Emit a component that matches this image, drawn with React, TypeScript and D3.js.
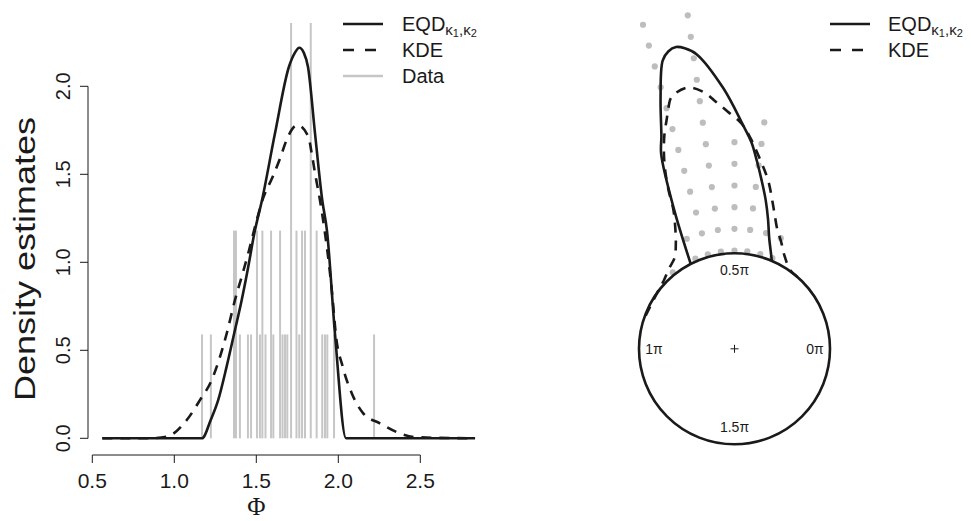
import * as d3 from "d3";

// density estimates (phi in radians)
const eqdPhi = [0.561, 1.169, 1.222, 1.268, 1.319, 1.364, 1.411, 1.451, 1.488, 1.535, 1.614, 1.699, 1.735, 1.762, 1.79, 1.815, 1.858, 1.902, 1.931, 1.98, 2.047, 2.834];
const eqdDens = [0, 0, 0.104, 0.218, 0.407, 0.591, 0.786, 0.975, 1.165, 1.354, 1.733, 2.111, 2.19, 2.219, 2.19, 2.111, 1.733, 1.354, 1.178, 0.591, 0, 0];

const kdePhi = [0.561, 0.852, 0.954, 1.076, 1.157, 1.228, 1.279, 1.32, 1.37, 1.411, 1.451, 1.492, 1.54, 1.6, 1.645, 1.689, 1.75, 1.817, 1.838, 1.858, 1.888, 1.919, 1.945, 1.966, 1.984, 2.027, 2.082, 2.152, 2.254, 2.376, 2.478, 2.834];
const kdeDens = [0, 0, 0.009, 0.104, 0.218, 0.331, 0.464, 0.597, 0.786, 0.918, 1.051, 1.202, 1.36, 1.486, 1.591, 1.705, 1.78, 1.714, 1.619, 1.506, 1.354, 1.165, 0.975, 0.786, 0.597, 0.407, 0.256, 0.142, 0.085, 0.028, 0.006, 0];

// observations (rug) and how many share each value
const rugPhi = [1.169, 1.223, 1.364, 1.376, 1.4, 1.449, 1.468, 1.504, 1.522, 1.537, 1.556, 1.59, 1.604, 1.645, 1.66, 1.675, 1.689, 1.712, 1.745, 1.762, 1.779, 1.797, 1.832, 1.868, 1.902, 1.919, 1.933, 1.974, 2.218];
const rugCount = [1, 1, 2, 2, 1, 1, 1, 2, 1, 2, 1, 2, 1, 2, 1, 1, 1, 4, 2, 1, 2, 2, 4, 2, 1, 1, 1, 1, 1];
const RUG_UNIT = 0.59;

// stacked points on the circular plot
const binTheta = [1.175, 1.305, 1.44, 1.571, 1.71, 1.846, 1.98, 2.25];
const binCount = [2, 2, 7, 6, 12, 12, 2, 1];

const circleLabels = [
  { t: 0, text: "0π" },
  { t: 0.5, text: "0.5π" },
  { t: 1, text: "1π" },
  { t: 1.5, text: "1.5π" },
];

const W = 971;
const H = 521;
const INK = "#1a1a1a";
const GREY = "#c6c6c6";
const DOT = "#bdbdbd";
const DASH = "10 8";
const LW = 2.6;
const FONT = "'Liberation Sans', Arial, Helvetica, sans-serif";

const x = d3.scaleLinear().domain([0.5, 2.5]).range([92.3, 420.3]);
const y = d3.scaleLinear().domain([0, 2]).range([438.3, 86.3]);

const CX = 734.5;
const CY = 348.8;
const R = 95.5;
const STACK0 = 1.029;
const STACK_STEP = 0.227;

const lineXY = d3
  .line<[number, number]>()
  .x((d) => x(d[0]))
  .y((d) => y(d[1]))
  .curve(d3.curveMonotoneX);

const zip = (a: number[], b: number[]) => a.map((v, i) => [v, b[i]] as [number, number]);

function polarPath(phi: number[], dens: number[]) {
  const pts = zip(phi, dens);
  let a = 0;
  while (a < pts.length - 1 && pts[a + 1][1] === 0) a++;
  let b = pts.length - 1;
  while (b > 0 && pts[b - 1][1] === 0) b--;
  return d3
    .lineRadial<[number, number]>()
    .angle((d) => Math.PI / 2 - d[0])
    .radius((d) => R * (1 + d[1]))
    .curve(d3.curveCatmullRom)(pts.slice(a, b + 1));
}

const EqdLabel = ({ lx, ly }: { lx: number; ly: number }) => (
  <text x={lx} y={ly} fontSize={20} fontFamily={FONT} fill={INK}>
    EQD
    <tspan fontSize={15} dy={4}>κ</tspan>
    <tspan fontSize={11} dy={2}>1</tspan>
    <tspan fontSize={15} dy={-2}>,κ</tspan>
    <tspan fontSize={11} dy={2}>2</tspan>
  </text>
);

export default function App() {
  const xTicks = x.ticks(5);
  const yTicks = y.ticks(4);
  const fmt = d3.format(".1f");

  const dots: { cx: number; cy: number; key: string }[] = [];
  binTheta.forEach((t, i) => {
    for (let k = 0; k < binCount[i]; k++) {
      const r = R * (STACK0 + STACK_STEP * k);
      dots.push({ cx: CX + r * Math.cos(t), cy: CY - r * Math.sin(t), key: `${i}-${k}` });
    }
  });

  return (
    <svg
      width={W}
      height={H}
      style={{ position: "absolute", left: 0, top: 0, background: "#fff" }}
      fontFamily={FONT}
    >
      {/* ---------- left panel ---------- */}
      {rugPhi.map((p, i) => (
        <line
          key={i}
          x1={x(p)}
          x2={x(p)}
          y1={y(0)}
          y2={y(rugCount[i] * RUG_UNIT)}
          stroke={GREY}
          strokeWidth={2}
        />
      ))}
      <path d={lineXY(zip(kdePhi, kdeDens)) ?? ""} fill="none" stroke={INK} strokeWidth={LW} strokeDasharray={DASH} />
      <path d={lineXY(zip(eqdPhi, eqdDens)) ?? ""} fill="none" stroke={INK} strokeWidth={LW} />

      {/* y axis */}
      <line x1={88} x2={88} y1={y(0)} y2={y(2)} stroke={INK} strokeWidth={1} />
      {yTicks.map((t) => (
        <g key={t}>
          <line x1={80} x2={88} y1={y(t)} y2={y(t)} stroke={INK} strokeWidth={1} />
          <text
            transform={`translate(70,${y(t)}) rotate(-90)`}
            textAnchor="middle"
            fontSize={20}
            fill={INK}
          >
            {fmt(t)}
          </text>
        </g>
      ))}
      <text
        transform={`translate(35,259) rotate(-90)`}
        textAnchor="middle"
        fontSize={30}
        textLength={284}
        lengthAdjust="spacingAndGlyphs"
        fill={INK}
      >
        Density estimates
      </text>

      {/* x axis */}
      <line x1={x(0.5)} x2={x(2.5)} y1={455} y2={455} stroke={INK} strokeWidth={1} />
      {xTicks.map((t) => (
        <g key={t}>
          <line x1={x(t)} x2={x(t)} y1={455} y2={463} stroke={INK} strokeWidth={1} />
          <text x={x(t)} y={487.5} textAnchor="middle" fontSize={21} fill={INK}>
            {fmt(t)}
          </text>
        </g>
      ))}
      <text x={x(1.5)} y={515} textAnchor="middle" fontSize={25} fontFamily="'Liberation Serif', 'DejaVu Serif', serif" fill={INK}>
        Φ
      </text>

      {/* left legend */}
      <line x1={343} x2={383} y1={24} y2={24} stroke={INK} strokeWidth={LW} />
      <line x1={343} x2={383} y1={50} y2={50} stroke={INK} strokeWidth={LW} strokeDasharray="11 11" />
      <line x1={343} x2={383} y1={76} y2={76} stroke={GREY} strokeWidth={LW} />
      <EqdLabel lx={402} ly={31} />
      <text x={402} y={57} fontSize={20} fill={INK}>KDE</text>
      <text x={402} y={83} fontSize={20} fill={INK}>Data</text>

      {/* ---------- right panel ---------- */}
      {dots.map((d) => (
        <circle key={d.key} cx={d.cx} cy={d.cy} r={3.1} fill={DOT} />
      ))}
      <g transform={`translate(${CX},${CY})`}>
        <circle r={R} fill="none" stroke={INK} strokeWidth={LW} />
        <path d={polarPath(kdePhi, kdeDens) ?? ""} fill="none" stroke={INK} strokeWidth={LW} strokeDasharray={DASH} />
        <path d={polarPath(eqdPhi, eqdDens) ?? ""} fill="none" stroke={INK} strokeWidth={LW} />
        <line x1={-4} x2={4} y1={0} y2={0} stroke={INK} strokeWidth={1} />
        <line x1={0} x2={0} y1={-4} y2={4} stroke={INK} strokeWidth={1} />
        {circleLabels.map((l) => {
          const a = l.t * Math.PI;
          const rr = R - 17;
          return (
            <text
              key={l.text}
              x={rr * Math.cos(a) + (l.t === 0 ? 2 : l.t === 1 ? -2 : 0)}
              y={-rr * Math.sin(a)}
              textAnchor="middle"
              dominantBaseline="central"
              fontSize={14}
              fill={INK}
            >
              {l.text}
            </text>
          );
        })}
      </g>

      {/* right legend */}
      <line x1={830} x2={870} y1={24} y2={24} stroke={INK} strokeWidth={LW} />
      <line x1={830} x2={870} y1={50} y2={50} stroke={INK} strokeWidth={LW} strokeDasharray="11 11" />
      <EqdLabel lx={888} ly={31} />
      <text x={888} y={57} fontSize={20} fill={INK}>KDE</text>
    </svg>
  );
}
